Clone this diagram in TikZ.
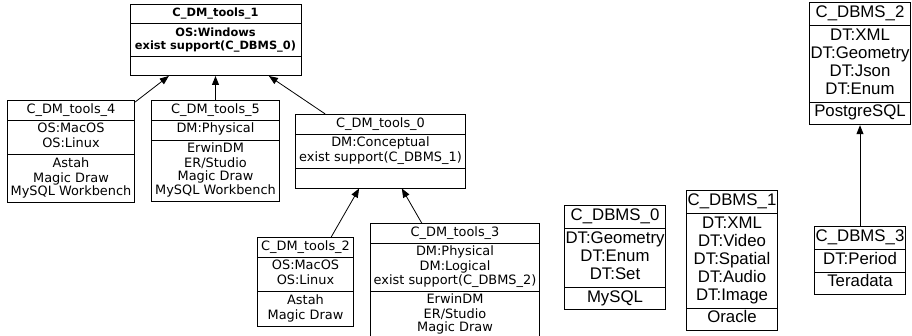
\documentclass[tikz,border=0pt]{standalone}
\usepackage{fontspec}
\newfontfamily\djv{DejaVu Sans}
\newfontfamily\lib{Liberation Sans}
\usetikzlibrary{arrows.meta,shapes.multipart}
\newcommand{\lines}[1]{\strut#1\strut}

\begin{document}
\begin{tikzpicture}[x=1pt,y=-1pt,
  tool/.style={rectangle split,rectangle split parts=3,draw,line width=.8pt,anchor=north,align=center,
    rectangle split empty part height=9.3pt,rectangle split empty part depth=4pt,
    inner xsep=3.5pt,inner ysep=2.6pt,font=\djv\fontsize{12.9}{13.3}\selectfont},
  toolhead/.style={tool,inner xsep=5pt,font=\djv\fontsize{11.4}{13.3}\bfseries},
  dbms/.style={tool,inner xsep=1pt,inner ysep=2pt,font=\lib\fontsize{16.8}{18}\selectfont},
  inh/.style={-{Triangle[length=9pt,width=7pt]},line width=.8pt}]
\useasboundingbox (0,0) rectangle (912,336);
\node[toolhead] (t1) at (215.5,4) {\lines{C\_DM\_tools\_1}\nodepart{two}\lines{OS:Windows\\exist support(C\_DBMS\_0)}\nodepart{three}};
\node[tool] (t4) at (71,100) {\lines{C\_DM\_tools\_4}\nodepart{two}\lines{OS:MacOS\\OS:Linux}\nodepart{three}\lines{Astah\\Magic Draw\\MySQL Workbench}};
\node[tool] (t5) at (215.5,100) {\lines{C\_DM\_tools\_5}\nodepart{two}\lines{DM:Physical}\nodepart{three}\lines{ErwinDM\\ER/Studio\\Magic Draw\\MySQL Workbench}};
\node[tool] (t0) at (380.5,114) {\lines{C\_DM\_tools\_0}\nodepart{two}\lines{DM:Conceptual\\exist support(C\_DBMS\_1)}\nodepart{three}};
\node[tool] (t2) at (305.5,237) {\lines{C\_DM\_tools\_2}\nodepart{two}\lines{OS:MacOS\\OS:Linux}\nodepart{three}\lines{Astah\\Magic Draw}};
\node[tool] (t3) at (455,223) {\lines{C\_DM\_tools\_3}\nodepart{two}\lines{DM:Physical\\DM:Logical\\exist support(C\_DBMS\_2)}\nodepart{three}\lines{ErwinDM\\ER/Studio\\Magic Draw}};
\node[dbms] (d0) at (615,205) {\lines{C\_DBMS\_0}\nodepart{two}\lines{DT:Geometry\\DT:Enum\\DT:Set}\nodepart{three}\lines{MySQL}};
\node[dbms] (d1) at (732,190) {\lines{C\_DBMS\_1}\nodepart{two}\lines{DT:XML\\DT:Video\\DT:Spatial\\DT:Audio\\DT:Image}\nodepart{three}\lines{Oracle}};
\node[dbms] (d2) at (860,2) {\lines{C\_DBMS\_2}\nodepart{two}\lines{DT:XML\\DT:Geometry\\DT:Json\\DT:Enum}\nodepart{three}\lines{PostgreSQL}};
\node[dbms] (d3) at (860,226) {\lines{C\_DBMS\_3}\nodepart{two}\lines{DT:Period}\nodepart{three}\lines{Teradata}};
\draw[inh] (t4) -- (t1);
\draw[inh] (t5) -- (t1);
\draw[inh] (t0) -- (t1);
\draw[inh] (t2) -- (t0);
\draw[inh] (t3) -- (t0);
\draw[inh] (d3) -- (d2);
\end{tikzpicture}
\end{document}
